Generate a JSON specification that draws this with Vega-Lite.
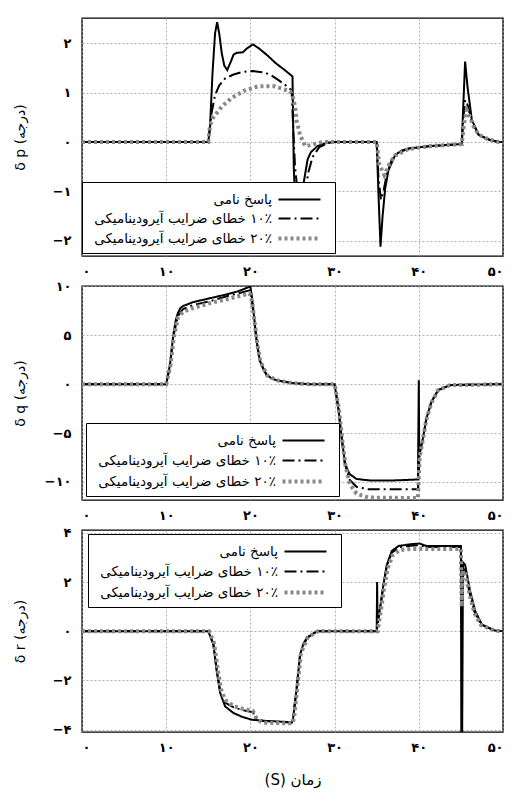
{
  "$schema": "https://vega.github.io/schema/vega-lite/v6.json",
  "background": "white",
  "padding": {"left": 12, "top": 17, "right": 10, "bottom": 10},
  "config": {
    "font": "DejaVu Sans",
    "view": {"stroke": "black", "strokeWidth": 1.4},
    "axis": {
      "grid": true, "gridColor": "#999999", "gridDash": [2, 2], "gridWidth": 0.8,
      "domain": false, "ticks": false, "tickSize": 0,
      "labelFont": "DejaVu Sans", "labelFontSize": 13, "labelFontWeight": "bold", "labelColor": "black",
      "titleFont": "DejaVu Sans", "titleFontWeight": "normal", "titleColor": "black", "titleFontSize": 14
    },
    "axisX": {"labelPadding": 9},
    "axisY": {"labelPadding": 11},
    "legend": {"labelColor": "black"}
  },
  "bounds": "flush",
  "spacing": 30,
  "resolve": {
    "scale": {"color": "independent", "strokeDash": "independent", "strokeWidth": "independent", "y": "independent"},
    "legend": {"color": "independent", "strokeDash": "independent", "strokeWidth": "independent"}
  },
  "datasets": {
    "p1": [
      {"s":"nominal","t":0,"v":0},{"s":"nominal","t":15,"v":0},{"s":"nominal","t":15.2,"v":0.3},{"s":"nominal","t":15.5,"v":1.4},{"s":"nominal","t":15.8,"v":2.2},{"s":"nominal","t":16.05,"v":2.43},{"s":"nominal","t":16.3,"v":2.2},{"s":"nominal","t":16.6,"v":1.8},{"s":"nominal","t":16.9,"v":1.55},{"s":"nominal","t":17.25,"v":1.46},{"s":"nominal","t":17.6,"v":1.6},{"s":"nominal","t":18,"v":1.77},{"s":"nominal","t":18.4,"v":1.81},{"s":"nominal","t":19.1,"v":1.82},{"s":"nominal","t":19.6,"v":1.9},{"s":"nominal","t":20.3,"v":1.98},{"s":"nominal","t":21,"v":1.9},{"s":"nominal","t":22,"v":1.76},{"s":"nominal","t":23,"v":1.6},{"s":"nominal","t":24,"v":1.47},{"s":"nominal","t":25,"v":1.33},{"s":"nominal","t":25.15,"v":-0.5},{"s":"nominal","t":25.4,"v":-1.6},{"s":"nominal","t":26,"v":-1.2},{"s":"nominal","t":26.4,"v":-0.75},{"s":"nominal","t":26.8,"v":-0.35},{"s":"nominal","t":27.2,"v":-0.2},{"s":"nominal","t":28,"v":-0.08},{"s":"nominal","t":29,"v":-0.02},{"s":"nominal","t":30,"v":0},{"s":"nominal","t":35,"v":0},{"s":"nominal","t":35.2,"v":-1},{"s":"nominal","t":35.45,"v":-2.12},{"s":"nominal","t":35.7,"v":-1.5},{"s":"nominal","t":36,"v":-0.95},{"s":"nominal","t":36.4,"v":-0.57},{"s":"nominal","t":37.2,"v":-0.26},{"s":"nominal","t":38,"v":-0.17},{"s":"nominal","t":38.8,"v":-0.13},{"s":"nominal","t":41.5,"v":-0.08},{"s":"nominal","t":45.1,"v":-0.04},{"s":"nominal","t":45.25,"v":0.6},{"s":"nominal","t":45.5,"v":1.63},{"s":"nominal","t":45.8,"v":1.1},{"s":"nominal","t":46.3,"v":0.45},{"s":"nominal","t":47.1,"v":0.15},{"s":"nominal","t":48.3,"v":0.05},{"s":"nominal","t":49.5,"v":0},{"s":"nominal","t":50,"v":0},
      {"s":"err10","t":0,"v":0},{"s":"err10","t":15,"v":0},{"s":"err10","t":15.4,"v":0.6},{"s":"err10","t":15.8,"v":0.95},{"s":"err10","t":16.3,"v":1.15},{"s":"err10","t":17,"v":1.29},{"s":"err10","t":18,"v":1.37},{"s":"err10","t":19,"v":1.42},{"s":"err10","t":20.3,"v":1.44},{"s":"err10","t":21.7,"v":1.41},{"s":"err10","t":22.5,"v":1.35},{"s":"err10","t":23.3,"v":1.26},{"s":"err10","t":24.2,"v":1.15},{"s":"err10","t":24.9,"v":1.05},{"s":"err10","t":25.1,"v":0.2},{"s":"err10","t":25.3,"v":-0.5},{"s":"err10","t":25.6,"v":-1},{"s":"err10","t":26,"v":-1.3},{"s":"err10","t":26.5,"v":-1},{"s":"err10","t":26.9,"v":-0.6},{"s":"err10","t":27.4,"v":-0.3},{"s":"err10","t":28.2,"v":-0.1},{"s":"err10","t":29.5,"v":0},{"s":"err10","t":35,"v":0},{"s":"err10","t":35.2,"v":-0.7},{"s":"err10","t":35.5,"v":-1.17},{"s":"err10","t":35.8,"v":-1},{"s":"err10","t":36.2,"v":-0.65},{"s":"err10","t":36.8,"v":-0.35},{"s":"err10","t":37.5,"v":-0.22},{"s":"err10","t":38.8,"v":-0.13},{"s":"err10","t":41.5,"v":-0.08},{"s":"err10","t":45.1,"v":-0.04},{"s":"err10","t":45.3,"v":0.5},{"s":"err10","t":45.5,"v":0.85},{"s":"err10","t":45.8,"v":0.75},{"s":"err10","t":46.3,"v":0.42},{"s":"err10","t":47.1,"v":0.15},{"s":"err10","t":48.3,"v":0.05},{"s":"err10","t":49.5,"v":0},{"s":"err10","t":50,"v":0},
      {"s":"err20","t":0,"v":0},{"s":"err20","t":15,"v":0},{"s":"err20","t":15.2,"v":0.34},{"s":"err20","t":15.6,"v":0.5},{"s":"err20","t":16.6,"v":0.72},{"s":"err20","t":17.8,"v":0.9},{"s":"err20","t":19.4,"v":1.05},{"s":"err20","t":20.9,"v":1.13},{"s":"err20","t":22.9,"v":1.13},{"s":"err20","t":24.7,"v":1.03},{"s":"err20","t":25,"v":0.95},{"s":"err20","t":25.3,"v":0.72},{"s":"err20","t":25.5,"v":0.42},{"s":"err20","t":25.9,"v":0.14},{"s":"err20","t":26.5,"v":-0.08},{"s":"err20","t":27.2,"v":-0.06},{"s":"err20","t":28.5,"v":0},{"s":"err20","t":35,"v":0},{"s":"err20","t":35.3,"v":-0.45},{"s":"err20","t":35.9,"v":-0.67},{"s":"err20","t":36.5,"v":-0.45},{"s":"err20","t":37.2,"v":-0.27},{"s":"err20","t":38.8,"v":-0.14},{"s":"err20","t":41.5,"v":-0.08},{"s":"err20","t":45.1,"v":-0.04},{"s":"err20","t":45.4,"v":0.4},{"s":"err20","t":45.7,"v":0.65},{"s":"err20","t":46.1,"v":0.5},{"s":"err20","t":46.5,"v":0.32},{"s":"err20","t":47.1,"v":0.15},{"s":"err20","t":48.3,"v":0.05},{"s":"err20","t":49.5,"v":0},{"s":"err20","t":50,"v":0}
    ],
    "p2": [
      {"s":"nominal","t":0,"v":0},{"s":"nominal","t":10,"v":0},{"s":"nominal","t":10.45,"v":2},{"s":"nominal","t":10.85,"v":5.1},{"s":"nominal","t":11.15,"v":6.6},{"s":"nominal","t":11.4,"v":7.3},{"s":"nominal","t":11.7,"v":7.8},{"s":"nominal","t":12,"v":8},{"s":"nominal","t":13.2,"v":8.4},{"s":"nominal","t":15.2,"v":8.8},{"s":"nominal","t":17.2,"v":9.2},{"s":"nominal","t":18.5,"v":9.5},{"s":"nominal","t":20,"v":10},{"s":"nominal","t":20.15,"v":9.15},{"s":"nominal","t":20.45,"v":6.8},{"s":"nominal","t":20.75,"v":4.4},{"s":"nominal","t":21.1,"v":2.5},{"s":"nominal","t":21.5,"v":1.6},{"s":"nominal","t":21.9,"v":1},{"s":"nominal","t":22.5,"v":0.6},{"s":"nominal","t":23.1,"v":0.4},{"s":"nominal","t":25.1,"v":0.1},{"s":"nominal","t":27,"v":0},{"s":"nominal","t":30,"v":0},{"s":"nominal","t":30.45,"v":-2.5},{"s":"nominal","t":30.85,"v":-5.5},{"s":"nominal","t":31.2,"v":-7.9},{"s":"nominal","t":31.5,"v":-8.7},{"s":"nominal","t":31.8,"v":-9.2},{"s":"nominal","t":32.6,"v":-9.7},{"s":"nominal","t":34.2,"v":-9.85},{"s":"nominal","t":37,"v":-9.85},{"s":"nominal","t":39.9,"v":-9.75},{"s":"nominal","t":40,"v":0.4},{"s":"nominal","t":40.05,"v":-7.2},{"s":"nominal","t":40.5,"v":-5.5},{"s":"nominal","t":40.9,"v":-3.5},{"s":"nominal","t":41.5,"v":-1.8},{"s":"nominal","t":42.3,"v":-0.6},{"s":"nominal","t":43.7,"v":-0.1},{"s":"nominal","t":45,"v":-0.05},{"s":"nominal","t":50,"v":0},
      {"s":"err10","t":0,"v":0},{"s":"err10","t":10,"v":0},{"s":"err10","t":10.45,"v":1.9},{"s":"err10","t":10.85,"v":4.9},{"s":"err10","t":11.4,"v":7},{"s":"err10","t":12,"v":7.7},{"s":"err10","t":13.2,"v":8.1},{"s":"err10","t":15.2,"v":8.5},{"s":"err10","t":17.2,"v":9},{"s":"err10","t":19.9,"v":9.6},{"s":"err10","t":20.15,"v":8.8},{"s":"err10","t":20.75,"v":4.3},{"s":"err10","t":21.1,"v":2.4},{"s":"err10","t":21.9,"v":1},{"s":"err10","t":23.1,"v":0.4},{"s":"err10","t":25.1,"v":0.1},{"s":"err10","t":27,"v":0},{"s":"err10","t":30,"v":0},{"s":"err10","t":30.45,"v":-2.5},{"s":"err10","t":30.85,"v":-5.6},{"s":"err10","t":31.2,"v":-8.1},{"s":"err10","t":31.8,"v":-9.8},{"s":"err10","t":32.6,"v":-10.5},{"s":"err10","t":34,"v":-10.75},{"s":"err10","t":39.9,"v":-10.75},{"s":"err10","t":40.1,"v":-7.2},{"s":"err10","t":40.5,"v":-5.5},{"s":"err10","t":40.9,"v":-3.5},{"s":"err10","t":41.5,"v":-1.8},{"s":"err10","t":42.3,"v":-0.6},{"s":"err10","t":43.7,"v":-0.1},{"s":"err10","t":50,"v":0},
      {"s":"err20","t":0,"v":0},{"s":"err20","t":10,"v":0},{"s":"err20","t":10.5,"v":1.9},{"s":"err20","t":10.9,"v":4.8},{"s":"err20","t":11.4,"v":6.8},{"s":"err20","t":12,"v":7.4},{"s":"err20","t":13.2,"v":7.8},{"s":"err20","t":15.2,"v":8.3},{"s":"err20","t":17.2,"v":8.7},{"s":"err20","t":19.9,"v":9.3},{"s":"err20","t":20.2,"v":8.5},{"s":"err20","t":20.8,"v":4.2},{"s":"err20","t":21.2,"v":2.3},{"s":"err20","t":22,"v":0.9},{"s":"err20","t":23.1,"v":0.4},{"s":"err20","t":25.1,"v":0.1},{"s":"err20","t":27,"v":0},{"s":"err20","t":30,"v":0},{"s":"err20","t":30.5,"v":-2.4},{"s":"err20","t":30.9,"v":-5.6},{"s":"err20","t":31.3,"v":-8.4},{"s":"err20","t":31.8,"v":-10.2},{"s":"err20","t":32.6,"v":-11.2},{"s":"err20","t":34,"v":-11.6},{"s":"err20","t":39.9,"v":-11.65},{"s":"err20","t":40.1,"v":-7.5},{"s":"err20","t":40.5,"v":-5.6},{"s":"err20","t":40.9,"v":-3.6},{"s":"err20","t":41.5,"v":-1.9},{"s":"err20","t":42.3,"v":-0.6},{"s":"err20","t":43.7,"v":-0.1},{"s":"err20","t":50,"v":0}
    ],
    "p3": [
      {"s":"nominal","t":0,"v":0},{"s":"nominal","t":15,"v":0},{"s":"nominal","t":15.6,"v":-0.54},{"s":"nominal","t":16,"v":-1.63},{"s":"nominal","t":16.4,"v":-2.5},{"s":"nominal","t":17,"v":-3.06},{"s":"nominal","t":18,"v":-3.33},{"s":"nominal","t":19,"v":-3.48},{"s":"nominal","t":20.15,"v":-3.6},{"s":"nominal","t":21.9,"v":-3.65},{"s":"nominal","t":24.9,"v":-3.7},{"s":"nominal","t":25.05,"v":-3.6},{"s":"nominal","t":25.5,"v":-2.3},{"s":"nominal","t":25.9,"v":-0.95},{"s":"nominal","t":26.3,"v":-0.5},{"s":"nominal","t":26.7,"v":-0.27},{"s":"nominal","t":27.9,"v":0},{"s":"nominal","t":35,"v":0},{"s":"nominal","t":35.05,"v":2},{"s":"nominal","t":35.1,"v":0.4},{"s":"nominal","t":35.4,"v":0.95},{"s":"nominal","t":35.8,"v":1.9},{"s":"nominal","t":36.2,"v":2.7},{"s":"nominal","t":36.8,"v":3.27},{"s":"nominal","t":37.6,"v":3.47},{"s":"nominal","t":39,"v":3.54},{"s":"nominal","t":40.1,"v":3.57},{"s":"nominal","t":40.9,"v":3.47},{"s":"nominal","t":45,"v":3.47},{"s":"nominal","t":45.05,"v":-4.3},{"s":"nominal","t":45.15,"v":-4.3},{"s":"nominal","t":45.25,"v":2.8},{"s":"nominal","t":45.5,"v":2.7},{"s":"nominal","t":46.1,"v":1.63},{"s":"nominal","t":46.7,"v":0.82},{"s":"nominal","t":47.5,"v":0.27},{"s":"nominal","t":49,"v":0.03},{"s":"nominal","t":50,"v":0},
      {"s":"err10","t":0,"v":0},{"s":"err10","t":15,"v":0},{"s":"err10","t":15.6,"v":-0.5},{"s":"err10","t":16,"v":-1.55},{"s":"err10","t":16.4,"v":-2.4},{"s":"err10","t":17,"v":-2.9},{"s":"err10","t":18,"v":-3.1},{"s":"err10","t":19,"v":-3.2},{"s":"err10","t":20.3,"v":-3.3},{"s":"err10","t":20.6,"v":-3.55},{"s":"err10","t":21.5,"v":-3.65},{"s":"err10","t":24.9,"v":-3.72},{"s":"err10","t":25.05,"v":-3.6},{"s":"err10","t":25.5,"v":-2.3},{"s":"err10","t":25.9,"v":-0.95},{"s":"err10","t":26.7,"v":-0.27},{"s":"err10","t":27.9,"v":0},{"s":"err10","t":35,"v":0},{"s":"err10","t":35.4,"v":0.9},{"s":"err10","t":35.8,"v":1.85},{"s":"err10","t":36.2,"v":2.65},{"s":"err10","t":36.8,"v":3.2},{"s":"err10","t":37.6,"v":3.42},{"s":"err10","t":39,"v":3.48},{"s":"err10","t":40.1,"v":3.5},{"s":"err10","t":40.9,"v":3.43},{"s":"err10","t":45,"v":3.43},{"s":"err10","t":45.1,"v":0.9},{"s":"err10","t":45.2,"v":2.55},{"s":"err10","t":45.5,"v":2.5},{"s":"err10","t":46,"v":1.6},{"s":"err10","t":46.6,"v":0.8},{"s":"err10","t":47.4,"v":0.27},{"s":"err10","t":49,"v":0.03},{"s":"err10","t":50,"v":0},
      {"s":"err20","t":0,"v":0},{"s":"err20","t":15.1,"v":0},{"s":"err20","t":15.7,"v":-0.5},{"s":"err20","t":16.1,"v":-1.5},{"s":"err20","t":16.5,"v":-2.35},{"s":"err20","t":17,"v":-2.8},{"s":"err20","t":18,"v":-3.05},{"s":"err20","t":19,"v":-3.15},{"s":"err20","t":20.3,"v":-3.25},{"s":"err20","t":20.8,"v":-3.6},{"s":"err20","t":21.5,"v":-3.72},{"s":"err20","t":25,"v":-3.75},{"s":"err20","t":25.2,"v":-3.5},{"s":"err20","t":25.6,"v":-2.2},{"s":"err20","t":26,"v":-0.9},{"s":"err20","t":26.8,"v":-0.25},{"s":"err20","t":28,"v":0},{"s":"err20","t":35.1,"v":0},{"s":"err20","t":35.5,"v":0.85},{"s":"err20","t":35.9,"v":1.8},{"s":"err20","t":36.3,"v":2.55},{"s":"err20","t":36.9,"v":3.1},{"s":"err20","t":37.7,"v":3.3},{"s":"err20","t":39,"v":3.35},{"s":"err20","t":40.1,"v":3.35},{"s":"err20","t":45,"v":3.35},{"s":"err20","t":45.1,"v":1},{"s":"err20","t":45.2,"v":2.45},{"s":"err20","t":45.5,"v":2.4},{"s":"err20","t":46,"v":1.55},{"s":"err20","t":46.6,"v":0.75},{"s":"err20","t":47.4,"v":0.25},{"s":"err20","t":49,"v":0.03},{"s":"err20","t":50,"v":0}
    ]
  },
  "vconcat": [
    {
      "width": 421, "height": 238,
      "data": {"name": "p1"},
      "mark": {"type": "line", "clip": true},
      "encoding": {
        "x": {"field": "t", "type": "quantitative", "scale": {"domain": [0, 50], "nice": false, "zero": false},
              "axis": {"values": [0, 10, 20, 30, 40, 50], "title": null,
                       "labelExpr": "replace(replace(replace(replace(replace(replace(datum.label,regexp('0','g'),'۰'),regexp('1','g'),'۱'),regexp('2','g'),'۲'),regexp('3','g'),'۳'),regexp('4','g'),'۴'),regexp('5','g'),'۵')"}},
        "y": {"field": "v", "type": "quantitative", "scale": {"domain": [-2.31, 2.515], "nice": false, "zero": false},
              "axis": {"values": [-2, -1, 0, 1, 2], "title": "δ p  (درجه)", "titleX": -55, "titleColor": "black",
                       "labelExpr": "replace(replace(replace(replace(replace(replace(datum.label,regexp('0','g'),'۰'),regexp('1','g'),'۱'),regexp('2','g'),'۲'),regexp('3','g'),'۳'),regexp('4','g'),'۴'),regexp('5','g'),'۵')"}},
        "color": {"field": "s", "type": "nominal", "scale": {"domain": ["nominal", "err10", "err20"], "range": ["black", "black", "#888888"]},
                  "legend": {"orient": "none", "legendX": 0, "legendY": 164, "title": null,
                             "labelExpr": "datum.value == 'nominal' ? '\u202bپاسخ نامی\u202c' : datum.value == 'err10' ? '\u202b۱۰٪ خطای ضرایب آیرودینامیکی\u202c' : '\u202b۲۰٪ خطای ضرایب آیرودینامیکی\u202c'",
                             "fillColor": "white", "strokeColor": "black", "padding": 6, "labelFont": "DejaVu Sans", "labelFontSize": 13.5, "labelColor": "black", "labelLimit": 400,
                             "symbolType": "M-2,0H2", "symbolSize": 441, "symbolOffset": 199, "labelOffset": -40, "labelAlign": "right", "rowPadding": 1}},
        "strokeDash": {"field": "s", "type": "nominal", "scale": {"domain": ["nominal", "err10", "err20"], "range": [[1, 0], [12, 4, 2, 4], [3, 3]]}},
        "strokeWidth": {"field": "s", "type": "nominal", "scale": {"type": "ordinal", "domain": ["nominal", "err10", "err20"], "range": [2, 2, 4]}}
      }
    },
    {
      "width": 421, "height": 214,
      "data": {"name": "p2"},
      "mark": {"type": "line", "clip": true},
      "encoding": {
        "x": {"field": "t", "type": "quantitative", "scale": {"domain": [0, 50], "nice": false, "zero": false},
              "axis": {"values": [0, 10, 20, 30, 40, 50], "title": null,
                       "labelExpr": "replace(replace(replace(replace(replace(replace(datum.label,regexp('0','g'),'۰'),regexp('1','g'),'۱'),regexp('2','g'),'۲'),regexp('3','g'),'۳'),regexp('4','g'),'۴'),regexp('5','g'),'۵')"}},
        "y": {"field": "v", "type": "quantitative", "scale": {"domain": [-11.85, 10.05], "nice": false, "zero": false},
              "axis": {"values": [-10, -5, 0, 5, 10], "title": "δ q  (درجه)", "titleX": -55, "titleColor": "black",
                       "labelExpr": "replace(replace(replace(replace(replace(replace(datum.label,regexp('0','g'),'۰'),regexp('1','g'),'۱'),regexp('2','g'),'۲'),regexp('3','g'),'۳'),regexp('4','g'),'۴'),regexp('5','g'),'۵')"}},
        "color": {"field": "s", "type": "nominal", "scale": {"domain": ["nominal", "err10", "err20"], "range": ["black", "black", "#888888"]},
                  "legend": {"orient": "none", "legendX": 4, "legendY": 137, "title": null,
                             "labelExpr": "datum.value == 'nominal' ? '\u202bپاسخ نامی\u202c' : datum.value == 'err10' ? '\u202b۱۰٪ خطای ضرایب آیرودینامیکی\u202c' : '\u202b۲۰٪ خطای ضرایب آیرودینامیکی\u202c'",
                             "fillColor": "white", "strokeColor": "black", "padding": 6, "labelFont": "DejaVu Sans", "labelFontSize": 13.5, "labelColor": "black", "labelLimit": 400,
                             "symbolType": "M-2,0H2", "symbolSize": 441, "symbolOffset": 199, "labelOffset": -40, "labelAlign": "right", "rowPadding": 2}},
        "strokeDash": {"field": "s", "type": "nominal", "scale": {"domain": ["nominal", "err10", "err20"], "range": [[1, 0], [12, 4, 2, 4], [3, 3]]}},
        "strokeWidth": {"field": "s", "type": "nominal", "scale": {"type": "ordinal", "domain": ["nominal", "err10", "err20"], "range": [2, 2, 4]}}
      }
    },
    {
      "width": 421, "height": 202,
      "data": {"name": "p3"},
      "mark": {"type": "line", "clip": true},
      "encoding": {
        "x": {"field": "t", "type": "quantitative", "scale": {"domain": [0, 50], "nice": false, "zero": false},
              "axis": {"values": [0, 10, 20, 30, 40, 50], "title": "\u202bزمان (S)\u202c", "titleFontSize": 15, "titlePadding": 18, "titleColor": "black",
                       "labelExpr": "replace(replace(replace(replace(replace(replace(datum.label,regexp('0','g'),'۰'),regexp('1','g'),'۱'),regexp('2','g'),'۲'),regexp('3','g'),'۳'),regexp('4','g'),'۴'),regexp('5','g'),'۵')"}},
        "y": {"field": "v", "type": "quantitative", "scale": {"domain": [-4.1, 4.12], "nice": false, "zero": false},
              "axis": {"values": [-4, -2, 0, 2, 4], "title": "δ r  (درجه)", "titleX": -55, "titleColor": "black",
                       "labelExpr": "replace(replace(replace(replace(replace(replace(datum.label,regexp('0','g'),'۰'),regexp('1','g'),'۱'),regexp('2','g'),'۲'),regexp('3','g'),'۳'),regexp('4','g'),'۴'),regexp('5','g'),'۵')"}},
        "color": {"field": "s", "type": "nominal", "scale": {"domain": ["nominal", "err10", "err20"], "range": ["black", "black", "#888888"]},
                  "legend": {"orient": "none", "legendX": 6, "legendY": 4, "title": null,
                             "labelExpr": "datum.value == 'nominal' ? '\u202bپاسخ نامی\u202c' : datum.value == 'err10' ? '\u202b۱۰٪ خطای ضرایب آیرودینامیکی\u202c' : '\u202b۲۰٪ خطای ضرایب آیرودینامیکی\u202c'",
                             "fillColor": "white", "strokeColor": "black", "padding": 6, "labelFont": "DejaVu Sans", "labelFontSize": 13.5, "labelColor": "black", "labelLimit": 400,
                             "symbolType": "M-2,0H2", "symbolSize": 441, "symbolOffset": 199, "labelOffset": -40, "labelAlign": "right", "rowPadding": 2}},
        "strokeDash": {"field": "s", "type": "nominal", "scale": {"domain": ["nominal", "err10", "err20"], "range": [[1, 0], [12, 4, 2, 4], [3, 3]]}},
        "strokeWidth": {"field": "s", "type": "nominal", "scale": {"type": "ordinal", "domain": ["nominal", "err10", "err20"], "range": [2, 2, 4]}}
      }
    }
  ]
}
